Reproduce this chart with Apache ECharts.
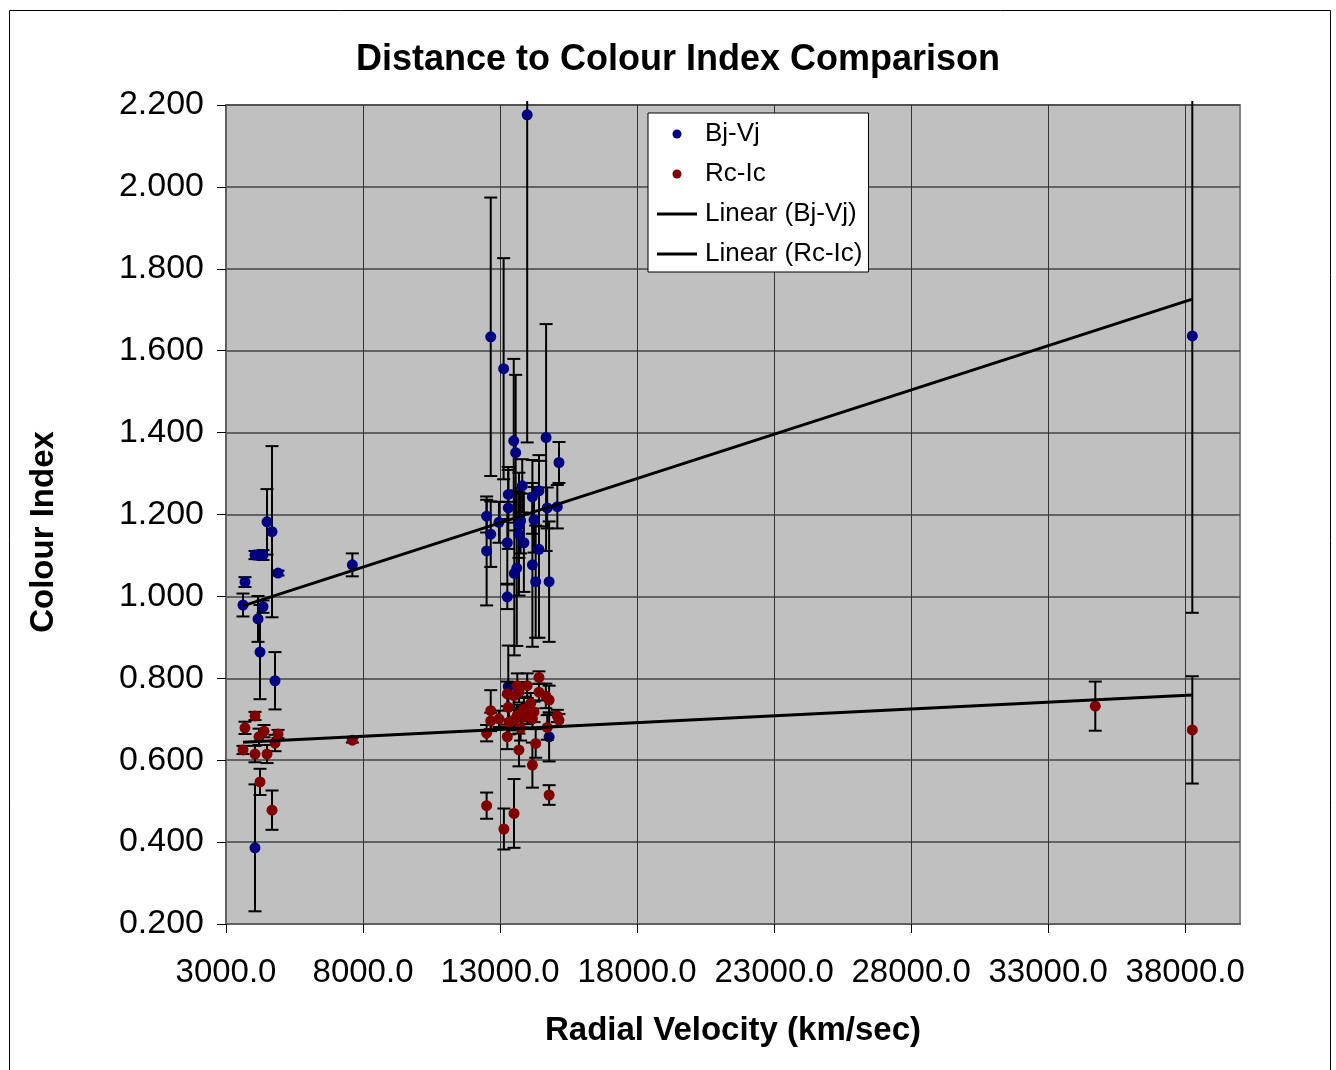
<!DOCTYPE html>
<html><head><meta charset="utf-8">
<script src="https://cdn.jsdelivr.net/npm/echarts@6/dist/echarts.min.js"></script>
<style>html,body{margin:0;padding:0;background:#fff}#c{width:1336px;height:1070px}</style>
</head><body><div id="c"></div>
<script>
const xTicks = [3000, 8000, 13000, 18000, 23000, 28000, 33000, 38000];

const bjX = [3620, 3693, 4058, 4204, 4350, 4168, 4241, 4350, 4496, 4679, 4788, 4898, 4058, 7610,
  12660, 13130, 13500, 13570, 13990, 14680, 15150, 13810, 13300, 14420, 14180, 13300, 14720, 15090,
  12510, 12960, 13750, 14240, 13690, 12660, 13690, 13265, 13870, 12510, 14420, 14180, 13610, 13520,
  14300, 14790, 13265, 13300, 14790, 38260];
const bjY = [0.979, 1.035, 1.101, 1.101, 1.101, 0.945, 0.864, 0.975, 1.182, 1.158, 0.794, 1.057, 0.386, 1.077,
  1.634, 1.556, 1.380, 1.351, 2.176, 1.388, 1.327, 1.270, 1.249, 1.258, 1.243, 1.216, 1.216, 1.219,
  1.196, 1.181, 1.185, 1.187, 1.174, 1.152, 1.152, 1.131, 1.131, 1.111, 1.115, 1.077, 1.069, 1.056,
  1.036, 1.036, 0.999, 0.780, 0.657, 1.636];
const bjErr = [0.028, 0.012, 0.010, 0.010, 0.012, 0.056, 0.115, 0.015, 0.080, 0.209, 0.070, 0.006, 0.155, 0.028,
  0.340, 0.270, 0.200, 0.190, 0.800, 0.277, 0.050, 0.065, 0.060, 0.087, 0.090, 0.100, 0.050, 0.053,
  0.040, 0.050, 0.080, 0.080, 0.080, 0.080, 0.150, 0.100, 0.120, 0.133, 0.216, 0.200, 0.190, 0.200,
  0.137, 0.147, 0.030, 0.100, 0.060, 0.676];

const rcX = [4058, 3693, 4387, 4204, 4898, 4788, 3620, 4058, 4496, 4241, 4679, 7610,
  14420, 13630, 13990, 13265, 13690, 13510, 14420, 14670, 14790, 14120, 13300, 12660, 13870, 14240,
  13990, 13630, 12960, 12660, 15090, 15150, 13330, 13510, 13810, 14180, 13750, 14720, 12510, 13265,
  13690, 14300, 14180, 14790, 12510, 13510, 13140, 34720, 38260];
const rcY = [0.708, 0.679, 0.671, 0.657, 0.664, 0.642, 0.625, 0.615, 0.615, 0.547, 0.478, 0.649,
  0.802, 0.782, 0.782, 0.762, 0.766, 0.758, 0.766, 0.757, 0.747, 0.739, 0.729, 0.721, 0.725, 0.718,
  0.713, 0.710, 0.701, 0.696, 0.708, 0.698, 0.693, 0.698, 0.705, 0.701, 0.678, 0.680, 0.666, 0.657,
  0.625, 0.641, 0.588, 0.515, 0.489, 0.470, 0.432, 0.732, 0.674];
const rcErr = [0.010, 0.015, 0.015, 0.020, 0.010, 0.020, 0.010, 0.020, 0.022, 0.032, 0.048, 0.006,
  0.015, 0.030, 0.030, 0.030, 0.025, 0.030, 0.020, 0.030, 0.035, 0.025, 0.030, 0.050, 0.030, 0.025,
  0.025, 0.025, 0.020, 0.020, 0.015, 0.015, 0.030, 0.025, 0.025, 0.025, 0.030, 0.030, 0.020, 0.030,
  0.040, 0.035, 0.055, 0.024, 0.032, 0.084, 0.050, 0.060, 0.131];

const trendBjX = [3620, 38260];
const trendBjY = [0.977, 1.726];
const trendRcX = [3620, 38260];
const trendRcY = [0.644, 0.759];

const FONT = '"Liberation Sans", Arial, sans-serif';

function errItem(params, api) {
  const x = api.value(0), y = api.value(1), e = api.value(2);
  const p1 = api.coord([x, y + e]), p2 = api.coord([x, y - e]);
  const cs = params.coordSys;
  const topLim = cs.y - 4, botLim = cs.y + cs.height;
  const cx = p1[0];
  const t = p1[1], b = p2[1];
  const st = {stroke: '#000', lineWidth: 2};
  const ch = [{type: 'line', shape: {x1: cx, y1: Math.max(t, topLim), x2: cx, y2: Math.min(b, botLim)}, style: st}];
  if (t >= topLim) ch.push({type: 'line', shape: {x1: cx - 6.5, y1: t, x2: cx + 6.5, y2: t}, style: st});
  if (b <= botLim) ch.push({type: 'line', shape: {x1: cx - 6.5, y1: b, x2: cx + 6.5, y2: b}, style: st});
  return {type: 'group', children: ch};
}

const chart = echarts.init(document.getElementById('c'), null, {renderer: 'canvas'});
chart.setOption({
  animation: false,
  backgroundColor: '#fff',
  title: {
    text: 'Distance to Colour Index Comparison',
    left: 673, top: 37, textAlign: 'center',
    textStyle: {fontFamily: FONT, fontSize: 36, fontWeight: 'bold', color: '#000'}
  },
  legend: {
    orient: 'vertical', left: 648, top: 113,
    padding: [6, 6, 3, 9], itemGap: 10, itemWidth: 40, itemHeight: 9,
    backgroundColor: '#fff', borderColor: '#000', borderWidth: 1,
    textStyle: {fontFamily: FONT, fontSize: 26, color: '#000', lineHeight: 30, padding: [0, 0, 0, 3]},
    data: [
      {name: 'Bj-Vj', icon: 'circle'},
      {name: 'Rc-Ic', icon: 'circle'},
      {name: 'Linear (Bj-Vj)', icon: 'path://M0,0H40V3H0Z'},
      {name: 'Linear (Rc-Ic)', icon: 'path://M0,0H40V3H0Z'}
    ]
  },
  grid: {
    left: 226, top: 105, width: 1014, height: 819,
    show: true, backgroundColor: '#c0c0c0', borderColor: '#808080', borderWidth: 2
  },
  xAxis: {
    type: 'value', min: 3000, max: 40000,
    name: 'Radial Velocity (km/sec)', nameLocation: 'middle', nameGap: 90,
    nameTextStyle: {fontFamily: FONT, fontSize: 33, fontWeight: 'bold', color: '#000'},
    axisLine: {show: true, lineStyle: {color: '#606060', width: 2}},
    axisTick: {show: true, length: 9, customValues: xTicks, lineStyle: {color: '#000', width: 1}},
    axisLabel: {customValues: xTicks, margin: 32, fontFamily: FONT, fontSize: 33, color: '#000',
      formatter: v => v.toFixed(1)},
    splitLine: {show: true, lineStyle: {color: '#333', width: 1}}
  },
  yAxis: {
    type: 'value', min: 0.2, max: 2.2, interval: 0.2,
    axisLine: {show: true, lineStyle: {color: '#606060', width: 2}},
    axisTick: {show: true, length: 9, lineStyle: {color: '#000', width: 1}},
    axisLabel: {margin: 22, fontFamily: FONT, fontSize: 34, color: '#000', padding: [4, 0, 0, 0],
      formatter: v => v.toFixed(3)},
    splitLine: {show: true, lineStyle: {color: '#444', width: 1.5}}
  },
  graphic: [
    {type: 'text', x: 44, y: 532, rotation: Math.PI / 2,
      style: {text: 'Colour Index', font: 'bold 33px ' + FONT, fill: '#000', align: 'center', verticalAlign: 'middle'}},
    {type: 'rect', shape: {x: 9.5, y: 10.5, width: 1321, height: 1080},
      style: {fill: 'none', stroke: '#000', lineWidth: 1}, silent: true}
  ],
  series: [
    {type: 'custom', name: 'errBj', renderItem: errItem, silent: true, z: 2,
      encode: {x: 0, y: 1}, data: bjX.map((x, i) => [x, bjY[i], bjErr[i]])},
    {type: 'scatter', name: 'Bj-Vj', symbol: 'circle', symbolSize: 11, z: 3,
      itemStyle: {color: '#000080', opacity: 1}, data: bjX.map((x, i) => [x, bjY[i]])},
    {type: 'custom', name: 'errRc', renderItem: errItem, silent: true, z: 4,
      encode: {x: 0, y: 1}, data: rcX.map((x, i) => [x, rcY[i], rcErr[i]])},
    {type: 'scatter', name: 'Rc-Ic', symbol: 'circle', symbolSize: 11, z: 5,
      itemStyle: {color: '#800000', opacity: 1}, data: rcX.map((x, i) => [x, rcY[i]])},
    {type: 'line', name: 'Linear (Bj-Vj)', showSymbol: false, symbol: 'none', z: 6, color: '#000',
      lineStyle: {color: '#000', width: 3}, itemStyle: {color: '#000'},
      data: trendBjX.map((x, i) => [x, trendBjY[i]])},
    {type: 'line', name: 'Linear (Rc-Ic)', showSymbol: false, symbol: 'none', z: 6, color: '#000',
      lineStyle: {color: '#000', width: 3}, itemStyle: {color: '#000'},
      data: trendRcX.map((x, i) => [x, trendRcY[i]])}
  ]
});
</script></body></html>
